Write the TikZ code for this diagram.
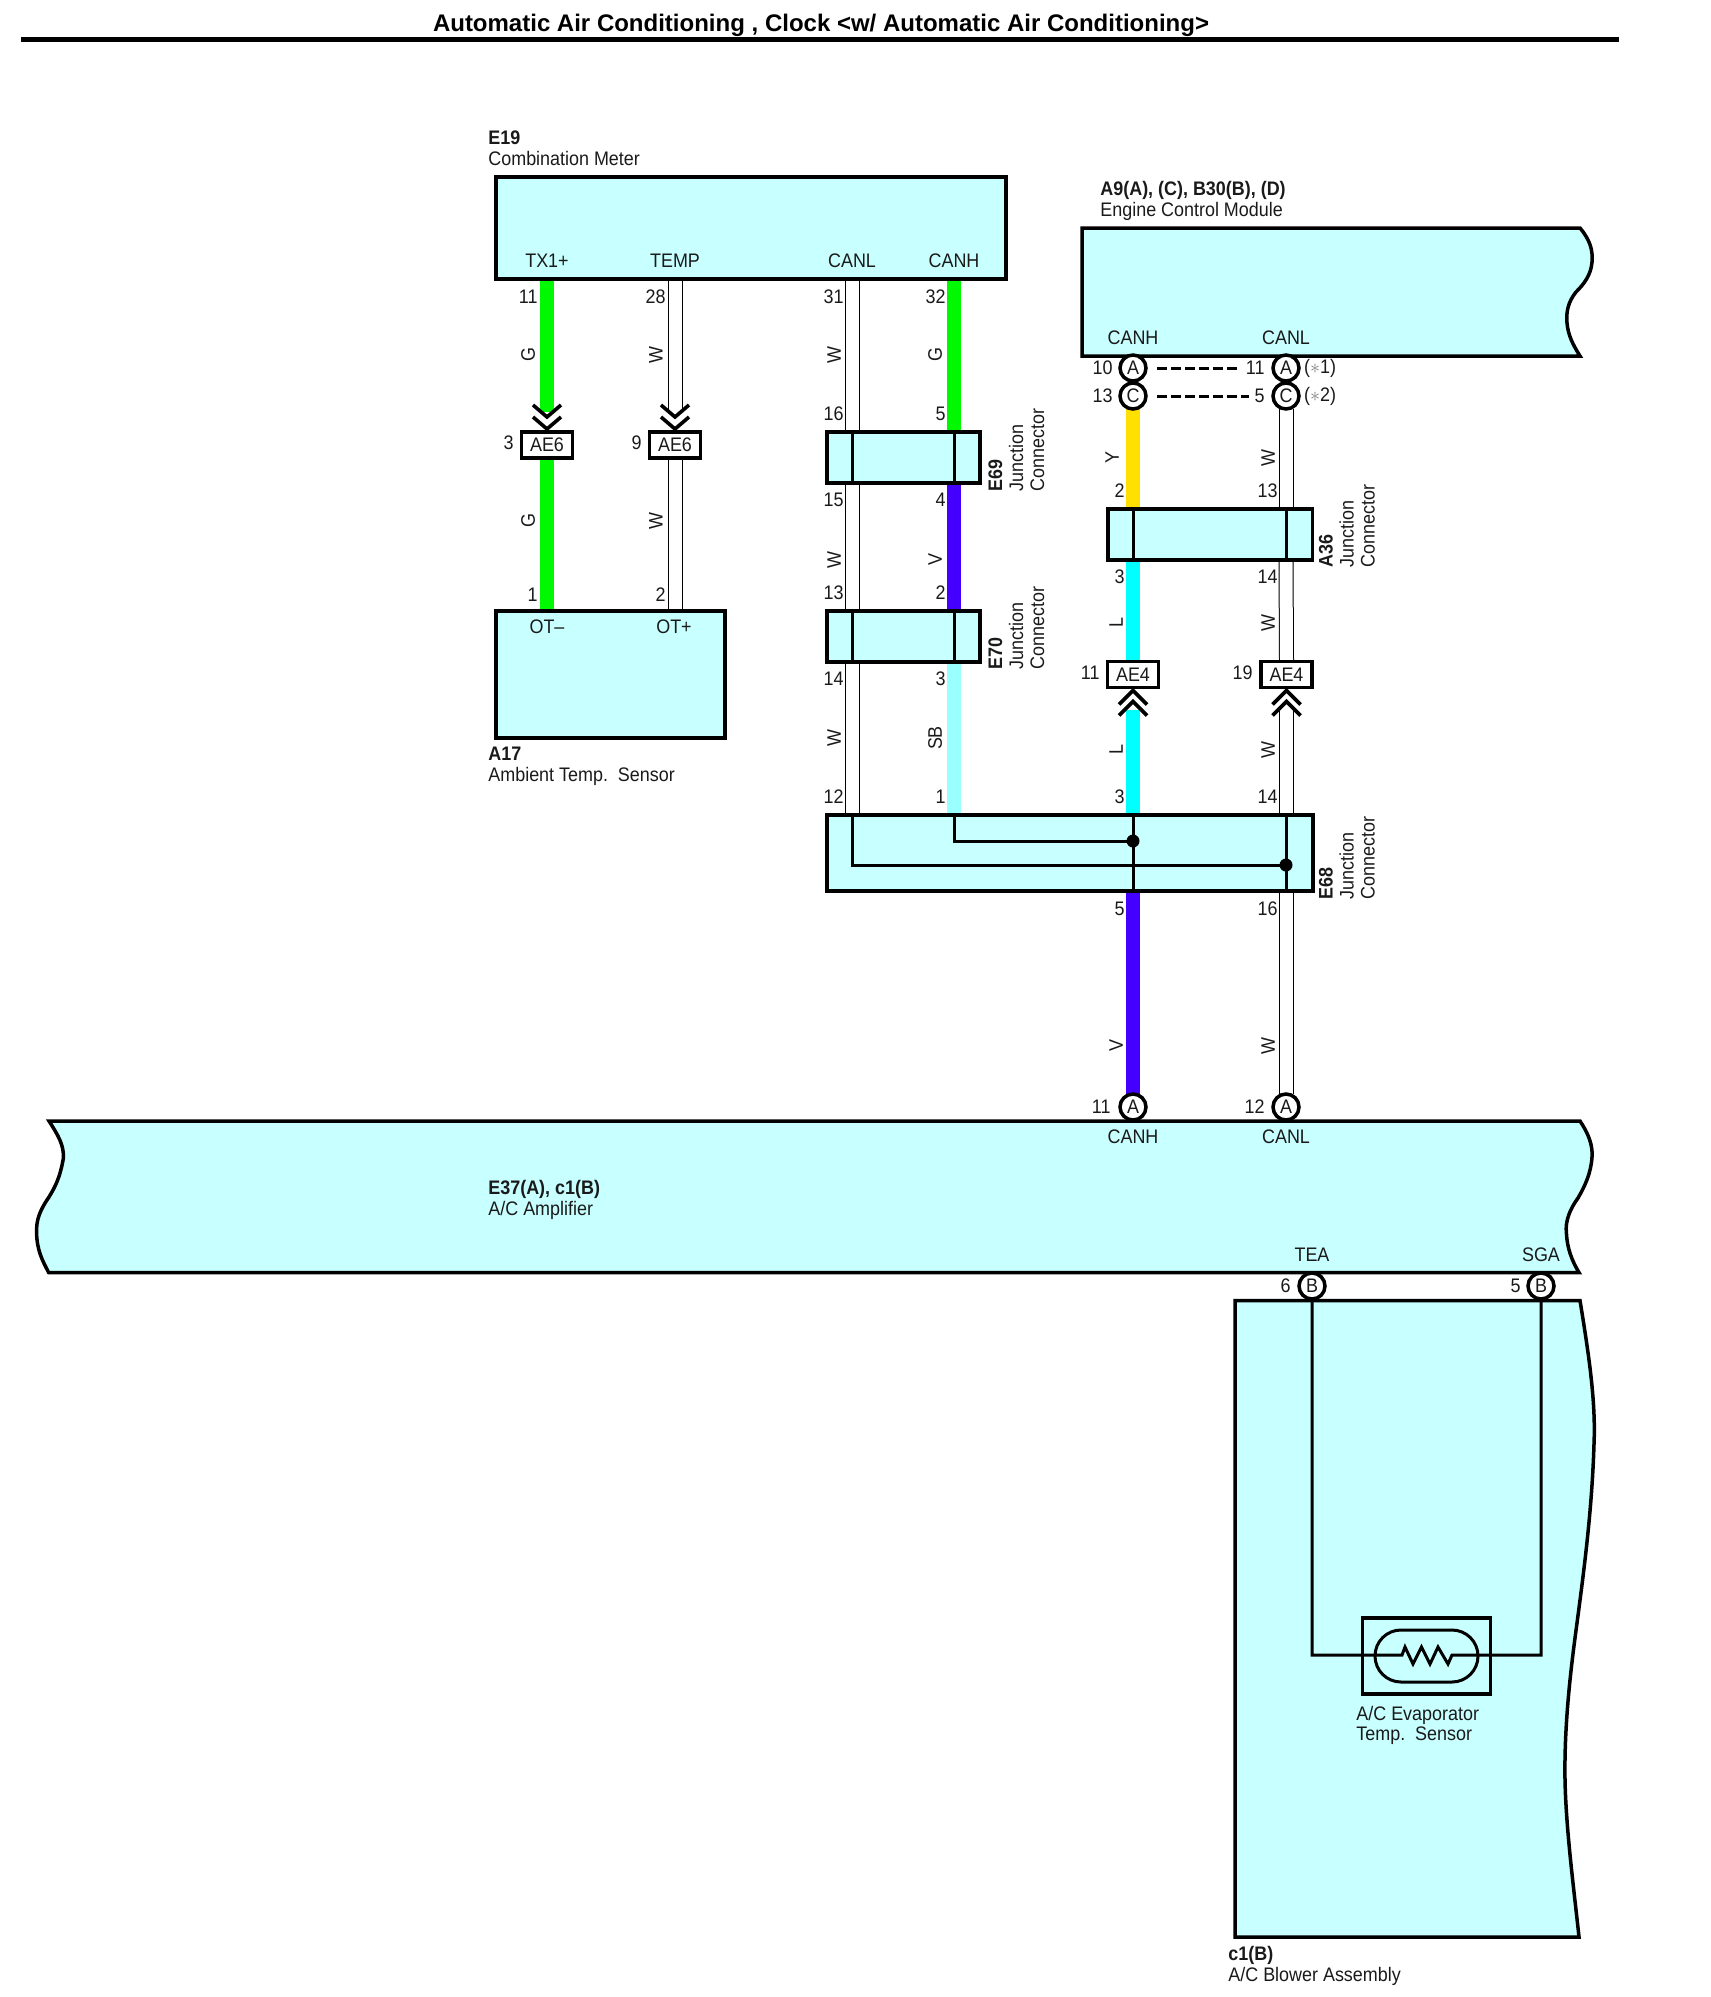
\documentclass[tikz,border=0pt]{standalone}
\usepackage{fontspec}
\setmainfont[FakeStretch=0.915]{Liberation Sans}
\newfontfamily\titlefont{Liberation Sans}
\usetikzlibrary{positioning,backgrounds}

\definecolor{modfill}{HTML}{C8FFFF}
\definecolor{wiregreen}{HTML}{00F800}
\definecolor{wireviolet}{HTML}{4400FF}
\definecolor{wireyellow}{HTML}{FFE000}
\definecolor{wirecyan}{HTML}{00FFFF}
\definecolor{wiresky}{HTML}{99FFFF}
\definecolor{inktext}{HTML}{1A1A1A}

\tikzset{
	box/.style={draw=black,fill=modfill,line width=1.75pt,miter limit=10},
	conbox/.style={draw=black,fill=modfill,line width=1.75pt,inner sep=0pt,outer sep=0pt},
	aebox/.style={draw=black,fill=white,line width=1.75pt,inner sep=0pt,outer sep=0pt,minimum width=25.5pt,minimum height=13pt,text=inktext},
	cpin/.style={circle,draw=black,fill=white,line width=1.75pt,inner sep=0pt,outer sep=0pt,minimum size=13pt,text=inktext},
	jdot/.style={circle,fill=black,inner sep=0pt,minimum size=6.5pt},
	wireW/.style={draw=black,line width=.5pt,double=white,double distance=6.5pt},
	wireG/.style={draw=wiregreen,line width=7.25pt},
	wireV/.style={draw=wireviolet,line width=7.25pt},
	wireY/.style={draw=wireyellow,line width=7.25pt},
	wireL/.style={draw=wirecyan,line width=7.25pt},
	wireSB/.style={draw=wiresky,line width=7.25pt},
	inner/.style={draw=black,line width=1.5pt},
	chev/.style={draw=black,line width=1.8pt},
	cdash/.style={draw=black,line width=1.5pt,dash pattern=on 5pt off 2pt},
	pinnum/.style={anchor=east,inner sep=0pt,xshift=.5pt,text=inktext},
	wirelab/.style={rotate=90,inner sep=0pt,text=inktext},
	siglab/.style={inner sep=0pt,text=inktext},
	partlab/.style={anchor=west,align=left,inner sep=0pt,text=inktext},
	jlab/.style={rotate=90,anchor=north west,align=left,inner sep=0pt,text=inktext}
}

\begin{document}
\begin{tikzpicture}[x=.5pt,y=-.5pt,font=\fontsize{9.8}{10.5}\selectfont]
	\useasboundingbox (0,0) rectangle (1710,1997);

	\node[anchor=base,inner sep=0pt,font=\fontsize{12}{13}\titlefont\bfseries] (title) at (821,32) {Automatic Air Conditioning , Clock <w/ Automatic Air Conditioning>};
	\coordinate (ruleL) at (21,39.5);
	\coordinate (ruleR) at (1619,39.5);
	\draw[line width=2.25pt] (ruleL) -- (ruleR);

	\foreach \n/\x/\y in {E19tx/547/279,E19tp/675/279,E19cl/852/279,E19ch/954/279,
		E69lt/852/432,E69lb/852/483,E69ht/954/432,E69hb/954/483,
		E70lt/852/611,E70lb/852/662,E70ht/954/611,E70hb/954/662,
		A17g/547/611,A17w/675/611,
		A36ht/1133/509,A36hb/1133/560,A36lt/1286/509,A36lb/1286/560,
		E68ct/852/815,E68st/954/815,E68ht/1133/815,E68hb/1133/891,E68lt/1286/815,E68lb/1286/891,
		endTX/547/412,endTP/675/412,endAh/1133/710,endAl/1286/710,
		dashAa/1157/368,dashAb/1237/368,dashCa/1157/396,dashCb/1249/396}
		\coordinate (\n) at (\x,\y);

	\node[partlab] (E19lab) at (488,148.5) {\textbf{E19}\\Combination Meter};
	\node[partlab] (ECMlab) at (1100,200.5) {\textbf{A9(A), (C), B30(B), (D)}\\Engine Control Module};
	\node[partlab] (A17lab) at (488,766) {\textbf{A17}\\Ambient Temp.~~Sensor};
	\node[partlab] (BLWlab) at (1228,1965.5) {\textbf{c1(B)}\\A/C Blower Assembly};

	\node[aebox] (AE6a) at (547,445) {AE6};
	\node[aebox] (AE6b) at (675,445) {AE6};
	\node[aebox] (AE4a) at (1133,674.5) {AE4};
	\node[aebox] (AE4b) at (1286.5,674.5) {AE4};

	\draw[box] (496,177) rectangle (1006,279);
	\node[siglab] (E19a) at (547,261) {TX1+};
	\node[siglab] (E19b) at (675,261) {TEMP};
	\node[siglab] (E19c) at (852,261) {CANL};
	\node[siglab] (E19d) at (954,261) {CANH};

	\draw[box] (1082,228) -- (1580,228)
		.. controls (1590,240) and (1593,250) .. (1592,262)
		.. controls (1591,275) and (1584,284) .. (1576,292)
		.. controls (1568,302) and (1566,312) .. (1567,323)
		.. controls (1568,335) and (1573,345) .. (1580,356)
		-- (1082,356) -- cycle;
	\node[siglab] (ECMa) at (1133,338) {CANH};
	\node[siglab] (ECMb) at (1286,338) {CANL};

	\draw[box] (496,611) rectangle (725,738);
	\node[siglab] (A17a) at (547,627) {OT–};
	\node[siglab] (A17b) at (674,627) {OT+};

	\node[conbox,minimum width=76.5pt,minimum height=25.5pt] (E69) at (903.5,457.5) {};
	\node[conbox,minimum width=76.5pt,minimum height=25.5pt] (E70) at (903.5,636.5) {};
	\node[conbox,minimum width=102.25pt,minimum height=25.5pt] (A36) at (1210,534.5) {};
	\node[conbox,minimum width=243pt,minimum height=38pt] (E68) at (1070,853) {};

	\draw[inner] (E69lt) -- (E69lb);
	\draw[inner] (E69ht) -- (E69hb);
	\draw[inner] (E70lt) -- (E70lb);
	\draw[inner] (E70ht) -- (E70hb);
	\draw[inner] (A36ht) -- (A36hb);
	\draw[inner] (A36lt) -- (A36lb);

	\node[jdot] (dotH) at (1133,841) {};
	\node[jdot] (dotL) at (1286,865) {};
	\draw[inner] (E68st) |- (dotH.center);
	\draw[inner] (E68ct) |- (dotL.center);
	\draw[inner] (E68ht) -- (E68hb);
	\draw[inner] (E68lt) -- (E68lb);

	\node[cpin] (cA1) at (1133,368) {A};
	\node[cpin] (cC1) at (1133,396) {C};
	\node[cpin] (cA2) at (1286,368) {A};
	\node[cpin] (cC2) at (1286,396) {C};
	\path (dashAa) edge[cdash] (dashAb)
	(dashCa) edge[cdash] (dashCb)
	;
	\node[siglab] (note1) at (1320,368) {(\textcolor{gray}{$\ast$}1)};
	\node[siglab] (note2) at (1320,396) {(\textcolor{gray}{$\ast$}2)};

	\foreach \n in {AE6a,AE6b} {
		\draw[chev] ([xshift=-7pt,yshift=13.5pt]\n.north) -- ([yshift=7.5pt]\n.north) -- ([xshift=7pt,yshift=13.5pt]\n.north);
		\draw[chev] ([xshift=-7pt,yshift=7.5pt]\n.north) -- ([yshift=1.5pt]\n.north) -- ([xshift=7pt,yshift=7.5pt]\n.north);
	}
	\foreach \n in {AE4a,AE4b} {
		\draw[chev] ([xshift=-7pt,yshift=-8.5pt]\n.south) -- ([yshift=-1.5pt]\n.south) -- ([xshift=7pt,yshift=-8.5pt]\n.south);
		\draw[chev] ([xshift=-7pt,yshift=-14pt]\n.south) -- ([yshift=-7pt]\n.south) -- ([xshift=7pt,yshift=-14pt]\n.south);
	}

	\draw[box] (49,1121) -- (1580,1121)
		.. controls (1588,1133) and (1593,1145) .. (1592,1157)
		.. controls (1591,1173) and (1585,1186) .. (1578,1198)
		.. controls (1570,1209) and (1565,1221) .. (1566.4,1233)
		.. controls (1567,1248) and (1572,1261) .. (1579,1272.5)
		-- (48.7,1272.5)
		.. controls (42,1260) and (37,1250) .. (36.6,1233)
		.. controls (36,1220) and (40,1210) .. (49,1197)
		.. controls (55,1187) and (60,1178) .. (63.4,1158)
		.. controls (64,1145) and (58,1135) .. (49,1121)
		-- cycle;
	\node[partlab] (AMPlab) at (488,1199.5) {\textbf{E37(A), c1(B)}\\A/C Amplifier};
	\node[siglab] (AMPa) at (1133,1137) {CANH};
	\node[siglab] (AMPb) at (1286,1137) {CANL};
	\node[siglab] (AMPc) at (1312,1255) {TEA};
	\node[siglab] (AMPd) at (1541,1255) {SGA};

	\node[cpin] (cA3) at (1133,1107) {A};
	\node[cpin] (cA4) at (1286,1107) {A};

	\draw[box] (1235,1300.5) -- (1580,1300.5)
		.. controls (1588,1350) and (1596,1400) .. (1594,1444)
		.. controls (1592,1510) and (1584,1570) .. (1577,1623)
		.. controls (1572,1660) and (1564,1720) .. (1565,1780)
		.. controls (1566,1830) and (1574,1890) .. (1579,1937)
		-- (1235,1937) -- cycle;
	\node[cpin] (cB1) at (1312,1286) {B};
	\node[cpin] (cB2) at (1541,1286) {B};

	\node[draw=black,line width=1.75pt,inner sep=0pt,outer sep=0pt,minimum width=64pt,minimum height=38pt] (sensor) at (1426.5,1656) {};
	\node[draw=black,line width=1.5pt,rounded corners=13pt,inner sep=0pt,outer sep=0pt,minimum width=51.5pt,minimum height=26pt] (capsule) at (1426.5,1656) {};
	\draw[inner] (cB1.south) |- (1402,1655) -- (1405,1647) -- (1413,1664) -- (1421.5,1647) -- (1430,1664) -- (1438,1647) -- (1448,1664) -- (1452,1655) -| (cB2.south);
	\node[partlab] (sensorlab) at (1356,1725.5) {A/C Evaporator\\[-.8pt]Temp.~~Sensor};

	\node[jlab] (E69lab) at (988,492) {\textbf{E69}\\Junction\\Connector};
	\node[jlab] (E70lab) at (988,670) {\textbf{E70}\\Junction\\Connector};
	\node[jlab] (A36lab) at (1318.5,568) {\textbf{A36}\\Junction\\Connector};
	\node[jlab] (E68lab) at (1318.5,900) {\textbf{E68}\\Junction\\Connector};

	\foreach \x/\y/\t [count=\i] in {537/297/11,665/297/28,843/297/31,945/297/32,843/414/16,945/414/5,
		513/443/3,641/443/9,843/500/15,945/500/4,537/595/1,665/595/2,
		843/593/13,945/593/2,843/679/14,945/679/3,843/797/12,945/797/1,
		1112/368/10,1112/396/13,1264/368/11,1264/396/5,
		1124/491/2,1277/491/13,1124/577/3,1277/577/14,1099/673/11,1252/673/19,
		1124/797/3,1277/797/14,1124/909/5,1277/909/16,1110/1107/11,1264/1107/12,1290/1286/6,1520/1286/5}
		\node[pinnum] (pin\i) at (\x,\y) {\t};

	\foreach \x/\y/\t [count=\i] in {528/355/G,656/355/W,834/355/W,935/355/G,528/521/G,656/521/W,
		834/560/W,935/560/V,834/738/W,935/738/SB,1112/458/Y,1268/458/W,
		1116/623/L,1268/623/W,1116/750/L,1268/750/W,1116/1046/V,1268/1046/W}
		\node[wirelab] (col\i) at (\x,\y) {\t};

	\begin{pgfonlayer}{background}
	\path
	(E19tx) edge[wireG] (endTX)
	(AE6a.south) edge[wireG] (A17g)
	(E19tp) edge[wireW] (endTP)
	(AE6b.south) edge[wireW] (A17w)
	(E19cl) edge[wireW] (E69lt)
	(E19ch) edge[wireG] (E69ht)
	(E69lb) edge[wireW] (E70lt)
	(E69hb) edge[wireV] (E70ht)
	(E70lb) edge[wireW] (E68ct)
	(E70hb) edge[wireSB] (E68st)
	(cC1.south) edge[wireY] (A36ht)
	(cC2.south) edge[wireW] (A36lt)
	(A36hb) edge[wireL] (AE4a.north)
	(A36lb) edge[wireW] (AE4b.north)
	(endAh) edge[wireL] (E68ht)
	(endAl) edge[wireW] (E68lt)
	(E68hb) edge[wireV] (cA3.north)
	(E68lb) edge[wireW] (cA4.north)
	;
	\end{pgfonlayer}
\end{tikzpicture}
\end{document}
